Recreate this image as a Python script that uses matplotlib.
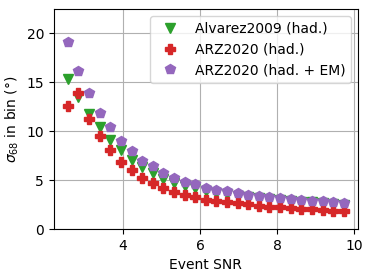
import matplotlib
matplotlib.use("Agg")
import matplotlib.pyplot as plt

# bin centres in event SNR
snr = [2.56, 2.84, 3.11, 3.39, 3.66, 3.94, 4.22, 4.49, 4.77, 5.04, 5.32, 5.60, 5.87, 6.15,
       6.42, 6.70, 6.98, 7.25, 7.53, 7.80, 8.08, 8.36, 8.63, 8.91, 9.18, 9.46, 9.74]

# sigma_68 (deg) per bin
alvarez_had = [15.3, 13.5, 11.8, 10.4, 9.15, 8.1, 7.1, 6.35, 5.75, 5.1, 4.75, 4.4, 4.15, 3.9,
               3.72, 3.58, 3.42, 3.3, 3.18, 3.06, 3.0, 2.9, 2.8, 2.72, 2.65, 2.58, 2.5]
arz_had = [12.6, 13.9, 11.25, 9.5, 8.05, 6.9, 6.0, 5.22, 4.72, 4.2, 3.82, 3.5, 3.25, 3.0,
           2.85, 2.75, 2.64, 2.54, 2.4, 2.3, 2.27, 2.13, 2.07, 2.0, 1.97, 1.86, 1.82]
arz_had_em = [19.15, 16.2, 13.93, 11.88, 10.4, 9.0, 7.96, 7.0, 6.43, 5.73, 5.25, 4.85, 4.65, 4.22,
              4.0, 3.87, 3.67, 3.53, 3.4, 3.26, 3.2, 3.1, 3.0, 2.9, 2.82, 2.75, 2.65]

fig, ax = plt.subplots(figsize=(3.74, 2.8), dpi=100)
fig.subplots_adjust(left=0.144, right=0.957, top=0.968, bottom=0.182)

ax.plot(snr, alvarez_had, 'v', ms=7, color='tab:green', label='Alvarez2009 (had.)')
ax.plot(snr, arz_had, 'P', ms=7, color='tab:red', label='ARZ2020 (had.)')
ax.plot(snr, arz_had_em, 'p', ms=7, color='tab:purple', label='ARZ2020 (had. + EM)')

ax.set_ylim(0, 22.5)
ax.set_xticks([4, 6, 8, 10])
ax.set_yticks([0, 5, 10, 15, 20])
ax.grid(True)
ax.set_xlabel('Event SNR')
ax.set_ylabel(r'$\sigma_{68}$ in bin (°)')
ax.legend(loc='upper right')

fig.savefig('out.png')
